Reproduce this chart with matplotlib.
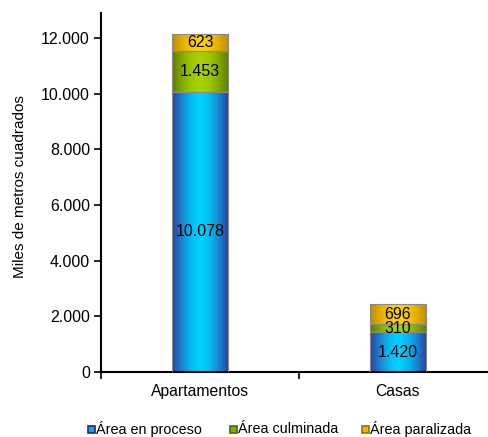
import numpy as np
import matplotlib
matplotlib.use("Agg")
import matplotlib.pyplot as plt
from matplotlib.colors import LinearSegmentedColormap
from matplotlib.patches import Rectangle

categories = ["Apartamentos", "Casas"]
series_names = ["Área en proceso", "Área culminada", "Área paralizada"]
en_proceso = [10078, 1420]
culminada = [1453, 310]
paralizada = [623, 696]
yticks = [0, 2000, 4000, 6000, 8000, 10000, 12000]

series = [en_proceso, culminada, paralizada]
# edge colour, centre colour for each cylinder-like gradient
grad = [("#2e3a9e", "#00d0ff"), ("#5e7a00", "#a6d400"), ("#c08a00", "#ffd000")]
legend_face = ["#1fa0e6", "#7fb000", "#e8b400"]
legend_edge = ["#1a2a7a", "#4e6a00", "#a07000"]

plt.rcParams["font.family"] = ["Liberation Sans", "DejaVu Sans"]

W, H = 488, 437
fig = plt.figure(figsize=(W / 100, H / 100), dpi=100)
ax = fig.add_axes([101 / W, (H - 372) / H, 396 / W, (372 - 13) / H])

def fmt(v):
    return f"{v:,.0f}".replace(",", ".")

x = np.arange(len(categories))
width = 0.283
bottom = np.zeros(len(categories))
t = np.linspace(-1, 1, 256)
prof = np.abs(t) ** 1.6
for vals, (edge_c, mid_c) in zip(series, grad):
    cmap = LinearSegmentedColormap.from_list("g", [mid_c, edge_c])
    bars = ax.bar(x, vals, width, bottom=bottom, color="none",
                  edgecolor="#8a8a8a", linewidth=0.8, zorder=3)
    for b, v, b0 in zip(bars, vals, bottom):
        x0 = b.get_x()
        im = ax.imshow(prof[np.newaxis, :], cmap=cmap, aspect="auto",
                       extent=(x0, x0 + width, b0, b0 + v), zorder=2,
                       interpolation="bilinear")
        im.set_clip_path(b)
        ax.text(b.get_x() + width / 2, b0 + v / 2, fmt(v), ha="center",
                va="center", fontsize=11.5, color="black", zorder=4)
    bottom = bottom + np.array(vals)

ax.set_xlim(-0.5, 1.5)
ax.set_ylim(0, 12900)
ax.set_yticks(yticks)
ax.set_yticklabels([fmt(v) for v in yticks], fontsize=11.5)
ax.set_xticks([-0.5, 0.5, 1.5])
ax.set_xticklabels([])
ax.tick_params(axis="x", length=5, width=1.2, direction="out")
ax.tick_params(axis="y", length=5, width=1.2, direction="out", pad=3)
for i, c in enumerate(categories):
    ax.text(i, -420, c, ha="center", va="top", fontsize=11.3)
ax.spines["top"].set_visible(False)
ax.spines["right"].set_visible(False)
ax.spines["left"].set_linewidth(1.5)
ax.spines["bottom"].set_linewidth(1.5)

fig.text(20 / W, (H - 187) / H, "Miles de metros cuadrados", rotation=90,
         ha="center", va="center", fontsize=11)

# legend row drawn in figure pixel coordinates
leg_x = [88, 230, 362]
leg_y = H - 429
for lx, name, fc, ec in zip(leg_x, series_names, legend_face, legend_edge):
    fig.patches.append(Rectangle((lx / W, (leg_y - 3.5) / H), 7 / W, 7 / H,
                                 facecolor=fc, edgecolor=ec, linewidth=1.2,
                                 transform=fig.transFigure))
    fig.text((lx + 8) / W, leg_y / H, name, ha="left", va="center", fontsize=10.4)

fig.savefig("out.png", dpi=100)
